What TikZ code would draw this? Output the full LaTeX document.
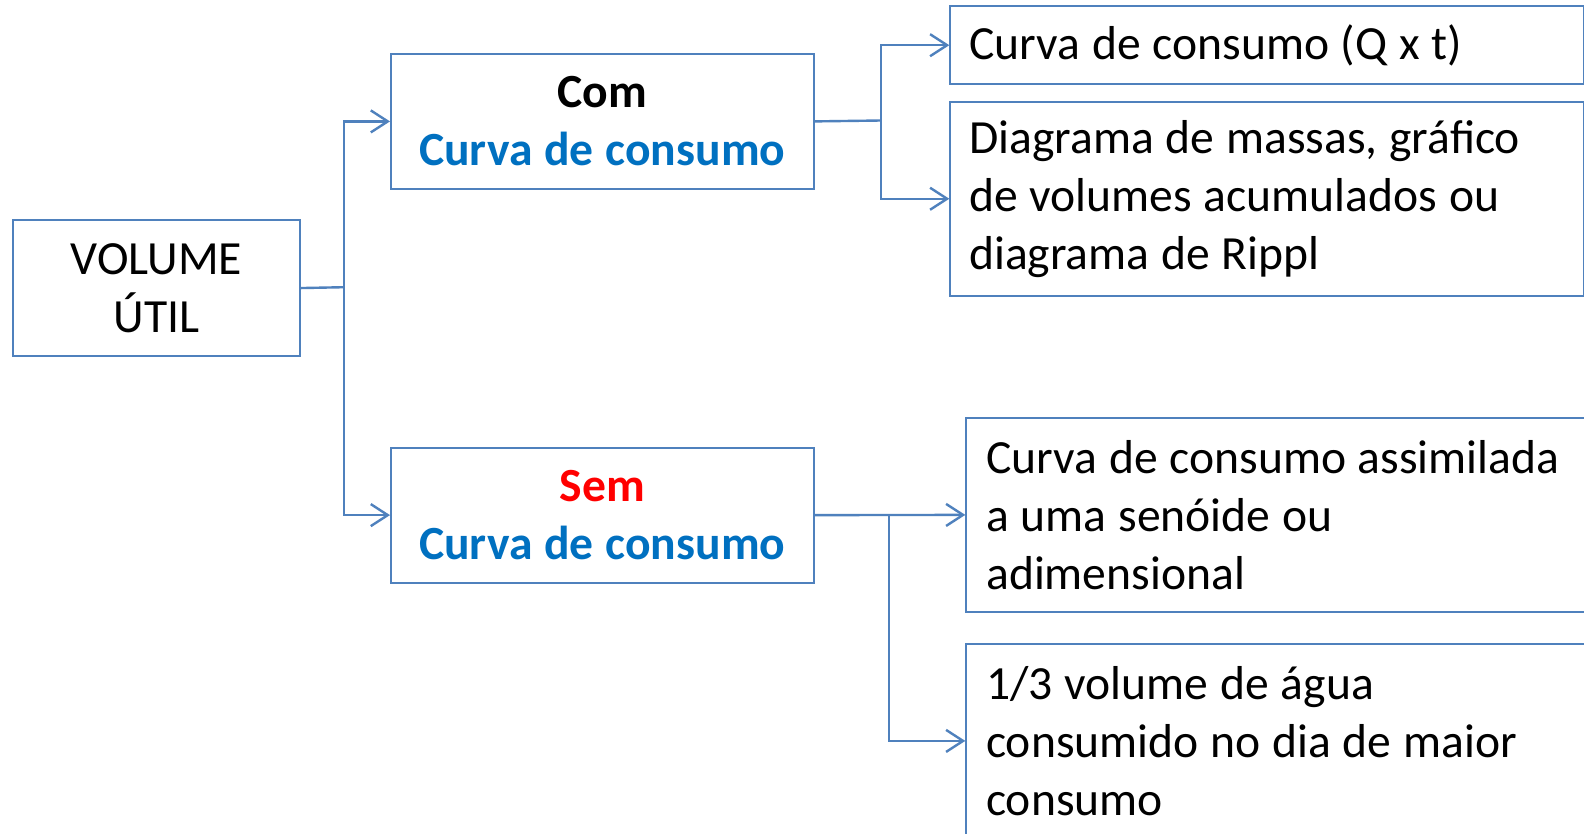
\documentclass[tikz,border=0pt]{standalone}
\usepackage{fontspec}
\setmainfont[WordSpace=1.1]{Carlito}
\usetikzlibrary{arrows.meta}
\definecolor{boxline}{RGB}{79,129,189}
\definecolor{txtblue}{RGB}{0,112,192}
\definecolor{txtred}{RGB}{255,0,0}
\begin{document}
\begin{tikzpicture}[x=1pt,y=-1pt,
  box/.style={draw=boxline, line width=1.8pt, fill=white, inner ysep=0pt,
    font=\fontsize{47.6}{58}\selectfont},
  conn/.style={draw=boxline, line width=2.4pt},
  arr/.style={conn, -{Straight Barb[length=17pt,width=22pt,line width=2.4pt]}}]
\clip (0,0) rectangle (1584,833);
\fill[white] (0,0) rectangle (1584,833);
% left box
\node[box, anchor=north west, minimum width=287.6pt, minimum height=135.7pt, align=center, inner xsep=0pt]
  (vol) at (11.7,219.3) {VOLUME\\ÚTIL};
% middle boxes
\node[box, anchor=north west, minimum width=422.7pt, minimum height=135.6pt, align=center, inner xsep=0pt]
  (com) at (390,52.7) {\textbf{Com}\\\textbf{\textcolor{txtblue}{Curva de consumo}}};
\node[box, anchor=north west, minimum width=422.7pt, minimum height=135pt, align=center, inner xsep=0pt]
  (sem) at (390,446.7) {\textbf{\textcolor{txtred}{Sem}}\\\textbf{\textcolor{txtblue}{Curva de consumo}}};
% right boxes
\node[box, anchor=north west, text width=595.5pt, inner xsep=19pt, minimum height=78pt, align=flush left]
  (b1) at (949.3,5.3) {Curva de consumo (Q x t)};
\node[box, anchor=north west, text width=595.5pt, inner xsep=19pt, minimum height=194.3pt, align=flush left]
  (b2) at (949.3,100.7) {Diagrama de massas, gráfico\\de volumes acumulados ou\\diagrama de Rippl};
\node[box, anchor=north west, text width=620pt, inner xsep=20pt, minimum height=193.4pt, align=flush left]
  (b3) at (965.3,417.3) {Curva de consumo assimilada\\a uma senóide ou\\adimensional};
\node[box, anchor=north west, text width=620pt, inner xsep=20pt, minimum height=193.4pt, align=flush left]
  (b4) at (965.3,643.3) {1/3 volume de água\\consumido no dia de maior\\consumo};
% connectors
\coordinate (j1) at (344,287.2);
\coordinate (j2) at (880.7,120.5);
\coordinate (j3) at (889,514.2);
\draw[conn] (vol.east) -- (j1);
\draw[arr] (j1) |- (com.west);
\draw[arr] (j1) |- (sem.west);
\draw[conn] (com.east) -- (j2);
\draw[arr] (j2) |- (b1.west);
\draw[arr] (j2) |- (b2.west);
\draw[arr] (sem.east) -- (b3.west);
\draw[arr] (j3) |- (b4.west);
\end{tikzpicture}
\end{document}
